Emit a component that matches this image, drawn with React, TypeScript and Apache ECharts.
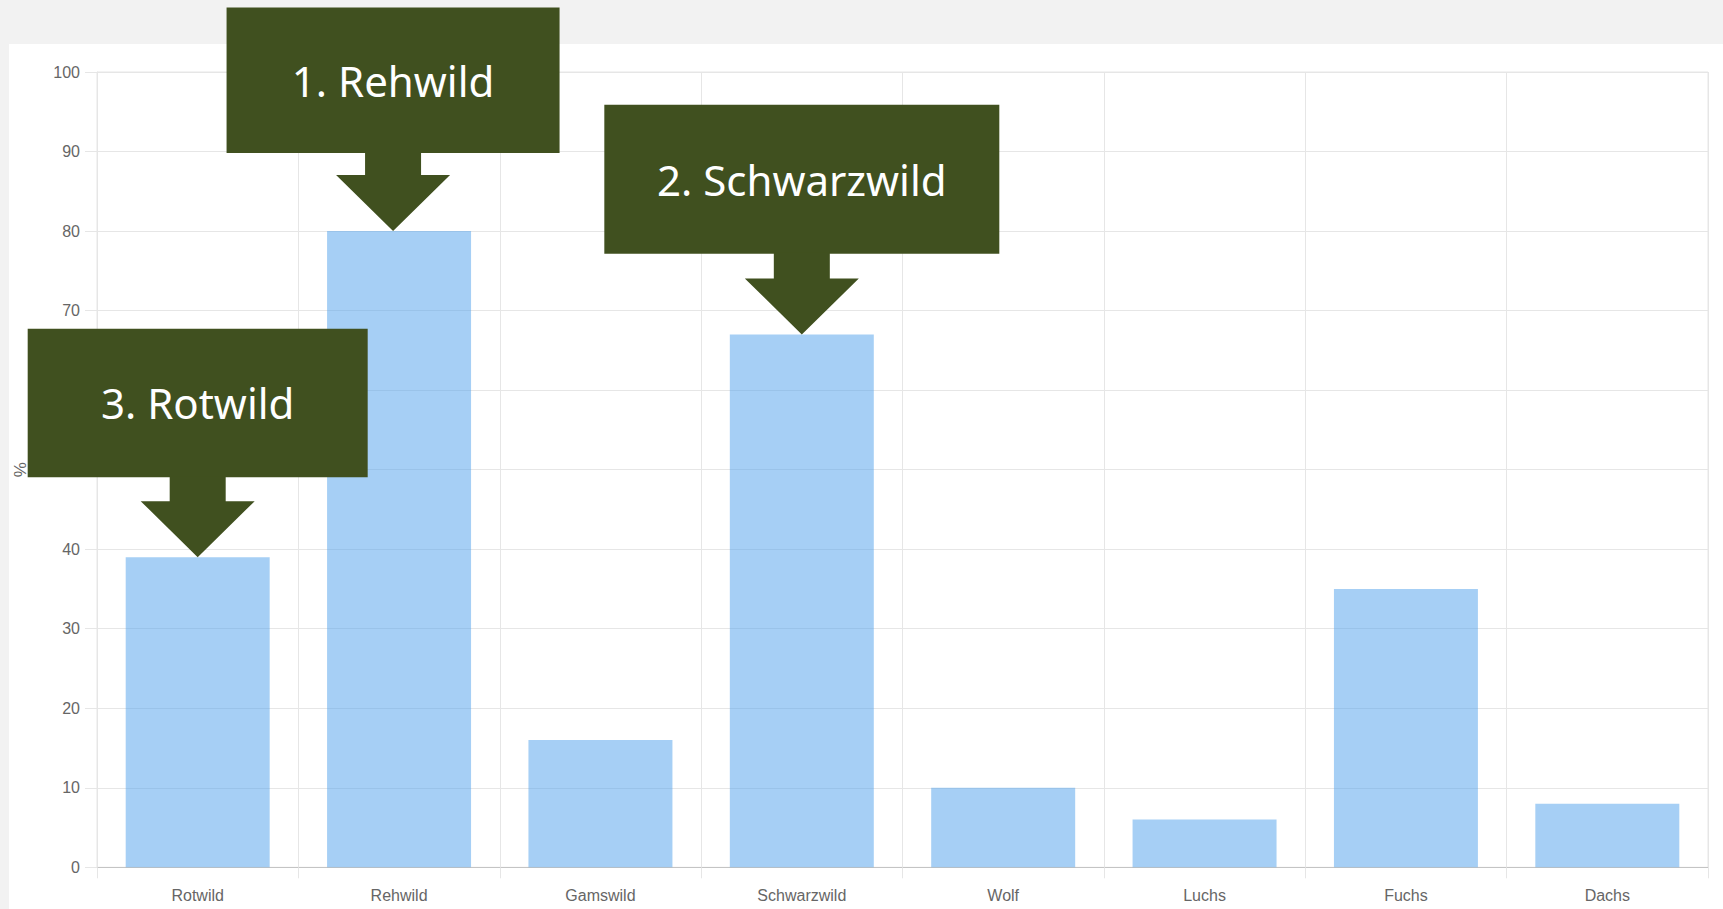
import React, { useEffect, useRef } from "react";
import * as echarts from "echarts";

// ---- data ----
const categories = ["Rotwild", "Rehwild", "Gamswild", "Schwarzwild", "Wolf", "Luchs", "Fuchs", "Dachs"];
const values = [39, 80, 16, 67, 10, 6, 35, 8];
const yMin = 0;
const yMax = 100;
const yInterval = 10;
const yAxisName = "%";
const annotationLabels = ["1. Rehwild", "2. Schwarzwild", "3. Rotwild"];
const annotationCategories = ["Rehwild", "Schwarzwild", "Rotwild"];

// ---- layout (not data) ----
const ANNOT_LAYOUT = [
  { w: 333, top: 223.5, bottom: 78, dx: -6 },
  { w: 395, top: 229.7, bottom: 80.7, dx: 0 },
  { w: 340, top: 228.4, bottom: 80, dx: 0 },
];
const STEM_HALF = 28;
const HEAD_HALF = 57;
const HEAD_HEIGHT = 56;
const BOX_COLOR = "#40501f";

export default function App() {
  const ref = useRef<HTMLDivElement>(null);

  useEffect(() => {
    if (!ref.current) return;
    const chart = echarts.init(ref.current, null, { renderer: "svg" });
    const labelFont = "Liberation Sans";
    chart.setOption({
      animation: false,
      backgroundColor: "transparent",
      grid: {
        left: 97,
        right: 15,
        top: 72,
        bottom: 41.7,
        show: true,
        borderColor: "#e6e6e6",
        borderWidth: 1,
        backgroundColor: "transparent",
      },
      xAxis: {
        type: "category",
        data: categories,
        boundaryGap: true,
        axisLine: { show: true, lineStyle: { color: "#c4c4c4", width: 1 } },
        axisTick: { show: true, length: 11, interval: 0, lineStyle: { color: "#e6e6e6" } },
        splitLine: { show: true, interval: 0, lineStyle: { color: "#e6e6e6", width: 1 } },
        axisLabel: {
          color: "#666",
          fontFamily: labelFont,
          fontSize: 16,
          margin: 20,
          interval: 0,
        },
      },
      yAxis: {
        type: "value",
        min: yMin,
        max: yMax,
        interval: yInterval,
        name: yAxisName,
        nameLocation: "middle",
        nameRotate: 90,
        nameGap: 68,
        nameTextStyle: { color: "#666", fontFamily: labelFont, fontSize: 17 },
        axisLine: { show: true, lineStyle: { color: "#e6e6e6" } },
        axisTick: { show: true, length: 12, lineStyle: { color: "#e6e6e6" } },
        splitLine: { show: true, lineStyle: { color: "#e6e6e6", width: 1 } },
        axisLabel: {
          color: "#666",
          fontFamily: labelFont,
          fontSize: 16,
          margin: 17,
        },
      },
      series: [
        {
          type: "bar",
          data: values,
          barCategoryGap: "28.5%",
          itemStyle: { color: "rgba(78,160,235,0.5)" },
          z: 2,
        },
      ],
    });

    const elements: any[] = [];
    annotationCategories.forEach((cat, i) => {
      const idx = categories.indexOf(cat);
      const p = chart.convertToPixel({ xAxisIndex: 0, yAxisIndex: 0 }, [idx, values[idx]]) as number[];
      const L = ANNOT_LAYOUT[i];
      const tx = p[0] + L.dx;
      const ty = p[1];
      const boxTop = ty - L.top;
      const boxBottom = ty - L.bottom;
      const headTop = ty - HEAD_HEIGHT;
      elements.push({
        type: "rect",
        z: 100,
        shape: { x: tx - L.w / 2, y: boxTop, width: L.w, height: boxBottom - boxTop },
        style: { fill: BOX_COLOR },
      });
      elements.push({
        type: "polygon",
        z: 100,
        shape: {
          points: [
            [tx - STEM_HALF, boxBottom - 1],
            [tx + STEM_HALF, boxBottom - 1],
            [tx + STEM_HALF, headTop],
            [tx + HEAD_HALF, headTop],
            [tx, ty],
            [tx - HEAD_HALF, headTop],
            [tx - STEM_HALF, headTop],
          ],
        },
        style: { fill: BOX_COLOR },
      });
      elements.push({
        type: "text",
        z: 101,
        style: {
          text: annotationLabels[i],
          x: tx,
          y: (boxTop + boxBottom) / 2,
          fill: "#ffffff",
          fontSize: 42,
          fontFamily: "Noto Sans",
          align: "center",
          verticalAlign: "middle",
        },
      });
    });
    chart.setOption({ graphic: { elements } });

    return () => chart.dispose();
  }, []);

  return (
    <div style={{ position: "absolute", left: 0, top: 0, width: 1723, height: 909, background: "#f2f2f2", overflow: "hidden" }}>
      <div style={{ position: "absolute", left: 9, top: 44, right: 0, bottom: 0, background: "#ffffff" }} />
      <div ref={ref} style={{ position: "absolute", left: 0, top: 0, width: 1723, height: 909 }} />
    </div>
  );
}
